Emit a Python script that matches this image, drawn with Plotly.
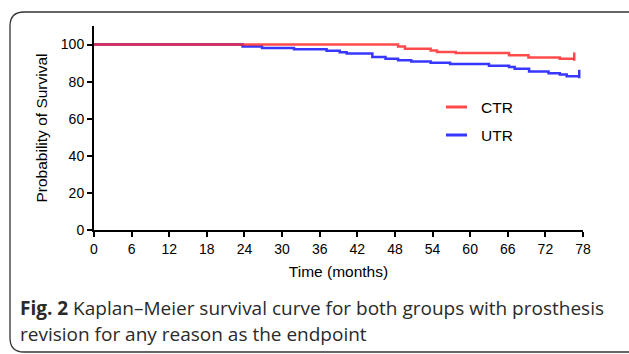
import plotly.graph_objects as go

# Data
ctr_time = [0, 48.5, 49.6, 53.7, 54.7, 57.7, 66.2, 69.3, 74.3, 76.6]
ctr_surv = [100, 98.9, 97.7, 96.8, 96.0, 95.4, 94.2, 93.0, 92.3, 92.3]

utr_time = [0, 23.7, 26.8, 31.9, 37.1, 39.2, 40.3, 44.4, 46.5, 48.5, 50.6, 53.7,
            56.8, 63.0, 66.2, 67.1, 69.4, 72.5, 74.3, 75.4, 77.4]
utr_surv = [100, 98.9, 98.1, 97.4, 96.6, 95.9, 95.2, 93.3, 92.4, 91.5, 90.8, 90.2,
            89.5, 88.6, 87.9, 87.0, 85.4, 84.5, 83.8, 82.9, 82.9]

series_names = ["CTR", "UTR"]

x_ticks = list(range(0, 79, 6))
y_ticks = [0, 20, 40, 60, 80, 100]

W, H = 629, 354
L, R, T, B = 94, 583, 26, 230

def px(x):
    return (x - L) / (R - L)

def py(y):
    return (B - y) / (B - T)

BLUE = "rgb(55,55,255)"
RED = "rgba(255,35,35,0.82)"
colors = [RED, BLUE]

fig = go.Figure()
fig.add_trace(go.Scatter(x=utr_time, y=utr_surv, mode="lines", line=dict(color=BLUE, width=2.5, shape="hv"),
                         name="UTR", showlegend=False))
fig.add_trace(go.Scatter(x=ctr_time, y=ctr_surv, mode="lines", line=dict(color=RED, width=2.5, shape="hv"),
                         name="CTR", showlegend=False))
# censor marks at the end of each curve
fig.add_trace(go.Scatter(x=[utr_time[-1]], y=[utr_surv[-1] + 1.2], mode="markers", showlegend=False,
                         marker=dict(symbol="line-ns", size=6, line=dict(color=BLUE, width=2.5))))
fig.add_trace(go.Scatter(x=[ctr_time[-1]], y=[ctr_surv[-1] + 1.2], mode="markers", showlegend=False,
                         marker=dict(symbol="line-ns", size=6, line=dict(color=RED, width=2.5))))

tick_font = dict(family="Liberation Sans, Arial, sans-serif", size=14, color="#000")
title_font = dict(family="Liberation Sans, Arial, sans-serif", size=15.5, color="#000")

fig.update_layout(
    width=W, height=H,
    margin=dict(l=L, r=W - R, t=T, b=H - B),
    paper_bgcolor="white", plot_bgcolor="white",
    showlegend=False,
    xaxis=dict(range=[0, 78], tickvals=x_ticks, ticks="outside", ticklen=5, tickwidth=2,
               tickcolor="#000", showline=True, linewidth=2, linecolor="#000", showgrid=False,
               zeroline=False, tickfont=tick_font,
               title=dict(text="Time (months)", font=title_font, standoff=10)),
    yaxis=dict(range=[0, 110], tickvals=y_ticks, ticks="outside", ticklen=5, tickwidth=2,
               tickcolor="#000", showline=True, linewidth=2, linecolor="#000", showgrid=False,
               zeroline=False, tickfont=tick_font,
               title=dict(text="Probability of Survival", font=title_font, standoff=9)),
)

# legend (drawn manually to match placement)
leg_y = [107, 135]
for name, col, yy in zip(series_names, colors, leg_y):
    fig.add_shape(type="line", xref="paper", yref="paper", x0=px(446), x1=px(467), y0=py(yy), y1=py(yy),
                  line=dict(color=col, width=3))
    fig.add_annotation(xref="paper", yref="paper", x=px(479), y=py(yy), xanchor="left", yanchor="middle",
                       showarrow=False, text=name,
                       font=dict(family="Liberation Sans, Arial, sans-serif", size=15.5, color="#000"))

cap_font = dict(family="Open Sans, sans-serif", size=19, color="#2a2a2a")
fig.add_annotation(xref="paper", yref="paper", x=px(18), y=py(308), xanchor="left", yanchor="middle",
                   showarrow=False, font=cap_font,
                   text="<b>Fig. 2</b> Kaplan–Meier survival curve for both groups with prosthesis")
fig.add_annotation(xref="paper", yref="paper", x=px(18), y=py(334), xanchor="left", yanchor="middle",
                   showarrow=False, font=cap_font,
                   text="revision for any reason as the endpoint")

# rounded figure frame
r = 14
path = (f"M {px(700)},{py(12)} L {px(10 + r)},{py(12)} Q {px(10)},{py(12)} {px(10)},{py(12 + r)} "
        f"L {px(10)},{py(352 - r)} Q {px(10)},{py(352)} {px(10 + r)},{py(352)} L {px(700)},{py(352)}")
fig.add_shape(type="path", xref="paper", yref="paper", path=path,
              line=dict(color="#333", width=1.3))

fig.write_html("out.html", config={"displayModeBar": False},
               post_script="document.body.style.margin='0px';document.body.style.overflow='hidden';")
